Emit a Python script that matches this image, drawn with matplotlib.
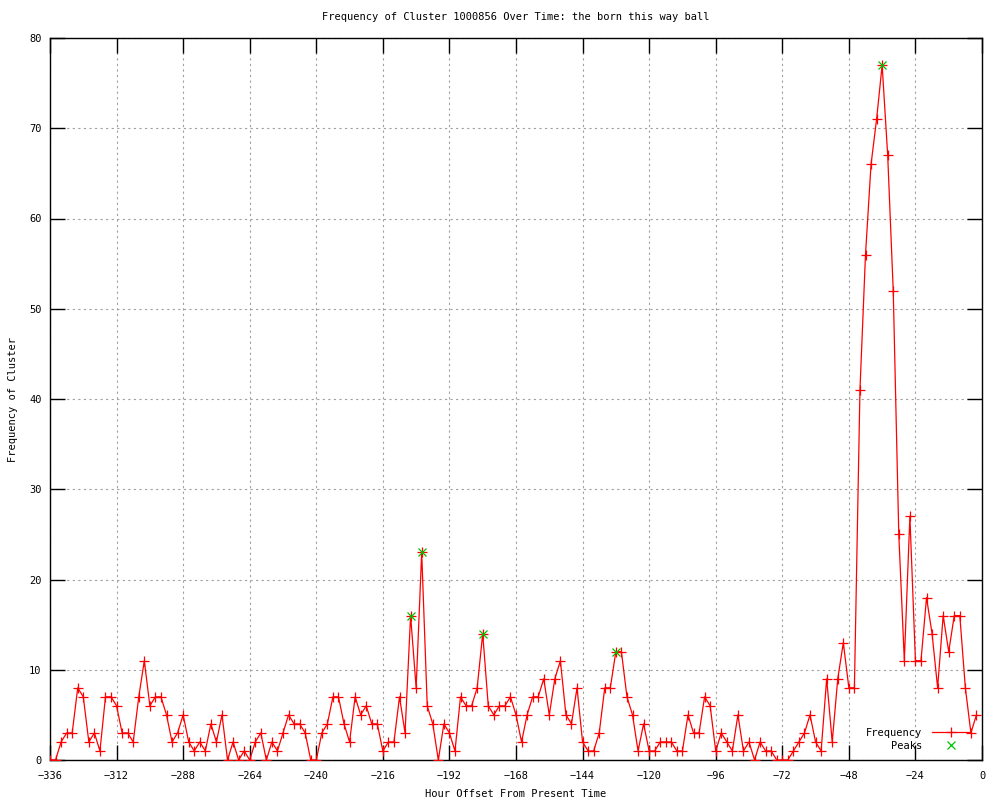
import numpy as np
import matplotlib
matplotlib.use("Agg")
import matplotlib.pyplot as plt

# ------------------------------------------
# Data (one value every 2 hours, -336 .. -2)
# ------------------------------------------
hours = np.arange(-336, 0, 2)
frequency = [
    0, 0, 2, 3, 3, 8, 7, 2, 3, 1, 7, 7,          # -336 .. -314
    6, 3, 3, 2, 7, 11, 6, 7, 7, 5, 2, 3,         # -312 .. -290
    5, 2, 1, 2, 1, 4, 2, 5, 0, 2, 0, 1,          # -288 .. -266
    0, 2, 3, 0, 2, 1, 3, 5, 4, 4, 3, 0,          # -264 .. -242
    0, 3, 4, 7, 7, 4, 2, 7, 5, 6, 4, 4,          # -240 .. -218
    1, 2, 2, 7, 3, 16, 8, 23, 6, 4, 0, 4,        # -216 .. -194
    3, 1, 7, 6, 6, 8, 14, 6, 5, 6, 6, 7,         # -192 .. -170
    5, 2, 5, 7, 7, 9, 5, 9, 11, 5, 4, 8,         # -168 .. -146
    2, 1, 1, 3, 8, 8, 12, 12, 7, 5, 1, 4,        # -144 .. -122
    1, 1, 2, 2, 2, 1, 1, 5, 3, 3, 7, 6,          # -120 .. -98
    1, 3, 2, 1, 5, 1, 2, 0, 2, 1, 1, 0,          # -96 .. -74
    0, 0, 1, 2, 3, 5, 2, 1, 9, 2, 9, 13,         # -72 .. -50
    8, 8, 41, 56, 66, 71, 77, 67, 52, 25, 11, 27,  # -48 .. -26
    11, 11, 18, 14, 8, 16, 12, 16, 16, 8, 3, 5,  # -24 .. -2
]

peak_hours = [-206, -202, -180, -132, -36]
peak_values = [16, 23, 14, 12, 77]

x_ticks = list(range(-336, 1, 24))
y_ticks = list(range(0, 81, 10))

title = "Frequency of Cluster 1000856 Over Time: the born this way ball"

# ------------------------------------------
# Plot
# ------------------------------------------
plt.rcParams['font.family'] = ['DejaVu Sans Mono']
fs = 7.5

fig = plt.figure(figsize=(10, 8), dpi=100)
ax = fig.add_axes([0.05, 0.05, 0.932, 0.9025])

ax.plot(hours, frequency, color='#ff0000', linewidth=0.9, marker='+',
        markersize=6.5, markeredgewidth=0.9, label='Frequency', zorder=3)
ax.plot(peak_hours, peak_values, linestyle='none', color='#00c000',
        marker='x', markersize=6, markeredgewidth=0.9,
        label='    Peaks', zorder=4)

ax.set_xlim(-336, 0)
ax.set_ylim(0, 80)
ax.set_xticks(x_ticks)
ax.set_yticks(y_ticks)

ax.grid(True, color='#a0a0a0', linestyle=(0, (2, 3)), linewidth=0.8)
ax.set_axisbelow(True)

ax.tick_params(direction='in', length=11, width=1, labelsize=fs,
               top=True, right=True, color='black')
ax.tick_params(axis='x', pad=8)
ax.tick_params(axis='y', pad=6)

for s in ax.spines.values():
    s.set_linewidth(1)
    s.set_color('black')

ax.set_title(title, fontsize=fs, pad=13)
ax.set_xlabel("Hour Offset From Present Time", fontsize=fs, labelpad=6)
ax.set_ylabel("Frequency of Cluster", fontsize=fs, labelpad=8)

ax.legend(loc='lower right', frameon=False, markerfirst=False,
          fontsize=fs, handlelength=3.6, numpoints=1,
          handletextpad=1.0, labelspacing=0.25,
          bbox_to_anchor=(0.997, 0.0))

plt.savefig("out.png", dpi=100)
